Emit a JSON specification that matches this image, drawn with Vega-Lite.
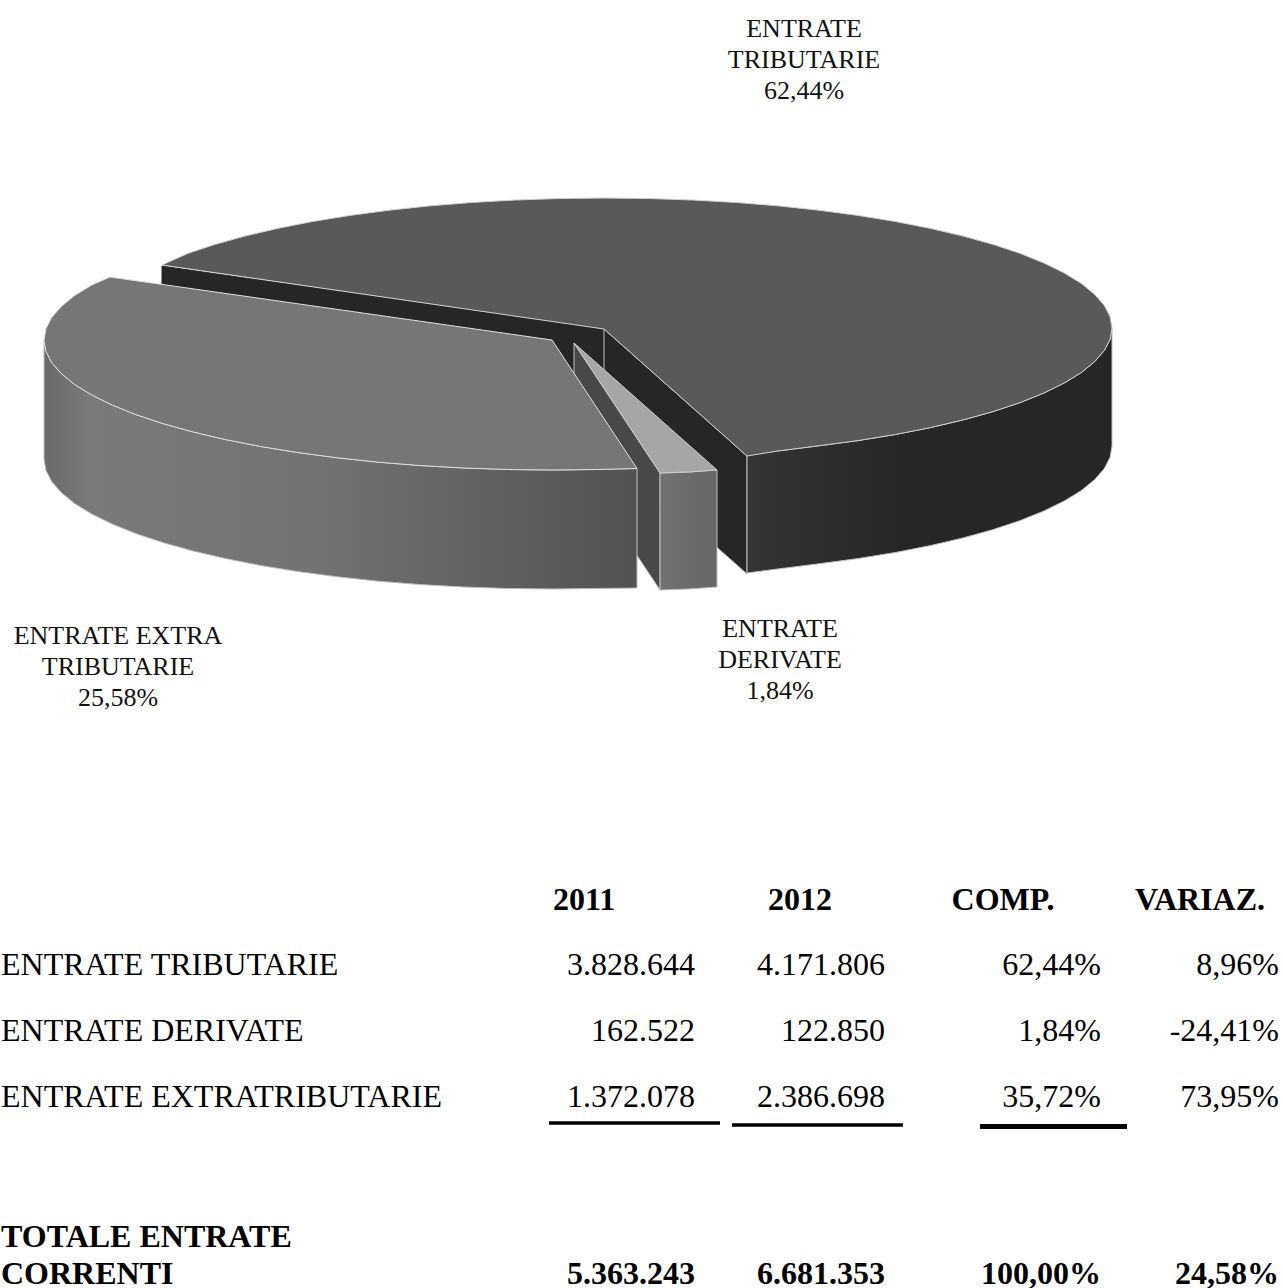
{
"$schema":"https://vega.github.io/schema/vega-lite/v6.json",
"width":1283,"height":1288,"padding":0,"autosize":{"type":"none"},
"background":"white","config":{"view":{"stroke":null}},
"datasets":{
"pie":[
{"part":"tribInnerLeft","x":162,"y":266},{"part":"tribInnerLeft","x":604,"y":329},{"part":"tribInnerLeft","x":604,"y":447},{"part":"tribInnerLeft","x":162,"y":384},{"part":"tribInnerLeft","x":162,"y":266},
{"part":"tribInnerRight","x":604,"y":329},{"part":"tribInnerRight","x":747,"y":456},{"part":"tribInnerRight","x":747,"y":574},{"part":"tribInnerRight","x":604,"y":447},{"part":"tribInnerRight","x":604,"y":329},
{"part":"tribWall","x":1112,"y":328},{"part":"tribWall","x":1110.1,"y":339.3},{"part":"tribWall","x":1104.3,"y":350.6},{"part":"tribWall","x":1094.7,"y":361.6},{"part":"tribWall","x":1081.4,"y":372.5},{"part":"tribWall","x":1064.4,"y":382.9},{"part":"tribWall","x":1043.9,"y":393},{"part":"tribWall","x":1020.2,"y":402.6},{"part":"tribWall","x":993.1,"y":411.6},{"part":"tribWall","x":963.2,"y":419.9},{"part":"tribWall","x":930.5,"y":427.6},{"part":"tribWall","x":895.4,"y":434.5},{"part":"tribWall","x":858,"y":440.6},{"part":"tribWall","x":818.7,"y":445.8},{"part":"tribWall","x":777.7,"y":451},{"part":"tribWall","x":747,"y":455},
{"part":"tribWall","x":747,"y":573},{"part":"tribWall","x":777.7,"y":569},{"part":"tribWall","x":818.7,"y":563.8},{"part":"tribWall","x":858,"y":558.6},{"part":"tribWall","x":895.4,"y":552.5},{"part":"tribWall","x":930.5,"y":545.6},{"part":"tribWall","x":963.2,"y":537.9},{"part":"tribWall","x":993.1,"y":529.6},{"part":"tribWall","x":1020.2,"y":520.6},{"part":"tribWall","x":1043.9,"y":511},{"part":"tribWall","x":1064.4,"y":500.9},{"part":"tribWall","x":1081.4,"y":490.5},{"part":"tribWall","x":1094.7,"y":479.6},{"part":"tribWall","x":1104.3,"y":468.6},{"part":"tribWall","x":1110.1,"y":457.3},{"part":"tribWall","x":1112,"y":446},{"part":"tribWall","x":1112,"y":328},
{"part":"tribTop","x":604,"y":329},{"part":"tribTop","x":162,"y":265},{"part":"tribTop","x":187.8,"y":253.4},{"part":"tribTop","x":214.9,"y":244.4},{"part":"tribTop","x":244.8,"y":236.1},{"part":"tribTop","x":277.5,"y":228.4},{"part":"tribTop","x":312.6,"y":221.5},{"part":"tribTop","x":350,"y":215.4},{"part":"tribTop","x":389.3,"y":210.2},{"part":"tribTop","x":430.3,"y":205.8},{"part":"tribTop","x":472.5,"y":202.4},{"part":"tribTop","x":515.8,"y":200},{"part":"tribTop","x":559.7,"y":198.5},{"part":"tribTop","x":604,"y":198},{"part":"tribTop","x":648.3,"y":198.5},{"part":"tribTop","x":692.2,"y":200},{"part":"tribTop","x":735.5,"y":202.4},{"part":"tribTop","x":777.7,"y":205.8},{"part":"tribTop","x":818.7,"y":210.2},{"part":"tribTop","x":858,"y":215.4},{"part":"tribTop","x":895.4,"y":221.5},{"part":"tribTop","x":930.5,"y":228.4},{"part":"tribTop","x":963.2,"y":236.1},{"part":"tribTop","x":993.1,"y":244.4},{"part":"tribTop","x":1020.2,"y":253.4},{"part":"tribTop","x":1043.9,"y":263},{"part":"tribTop","x":1064.4,"y":273.1},{"part":"tribTop","x":1081.4,"y":283.5},{"part":"tribTop","x":1094.7,"y":294.4},{"part":"tribTop","x":1104.3,"y":305.4},{"part":"tribTop","x":1110.1,"y":316.7},{"part":"tribTop","x":1112,"y":328},{"part":"tribTop","x":1110.1,"y":339.3},{"part":"tribTop","x":1104.3,"y":350.6},{"part":"tribTop","x":1094.7,"y":361.6},{"part":"tribTop","x":1081.4,"y":372.5},{"part":"tribTop","x":1064.4,"y":382.9},{"part":"tribTop","x":1043.9,"y":393},{"part":"tribTop","x":1020.2,"y":402.6},{"part":"tribTop","x":993.1,"y":411.6},{"part":"tribTop","x":963.2,"y":419.9},{"part":"tribTop","x":930.5,"y":427.6},{"part":"tribTop","x":895.4,"y":434.5},{"part":"tribTop","x":858,"y":440.6},{"part":"tribTop","x":818.7,"y":445.8},{"part":"tribTop","x":777.7,"y":451},{"part":"tribTop","x":747,"y":456},{"part":"tribTop","x":604,"y":329},
{"part":"derInner","x":574,"y":343},{"part":"derInner","x":660,"y":473},{"part":"derInner","x":660,"y":590},{"part":"derInner","x":574,"y":461},{"part":"derInner","x":574,"y":343},
{"part":"derWall","x":660,"y":473},{"part":"derWall","x":689,"y":472},{"part":"derWall","x":717,"y":470},{"part":"derWall","x":717,"y":587},{"part":"derWall","x":689,"y":589},{"part":"derWall","x":660,"y":590},{"part":"derWall","x":660,"y":473},
{"part":"derTop","x":574,"y":343},{"part":"derTop","x":660,"y":473},{"part":"derTop","x":689,"y":472},{"part":"derTop","x":717,"y":470},{"part":"derTop","x":574,"y":343},
{"part":"extraWall","x":44,"y":340},{"part":"extraWall","x":45.9,"y":351.3},{"part":"extraWall","x":51.7,"y":362.6},{"part":"extraWall","x":61.3,"y":373.6},{"part":"extraWall","x":74.6,"y":384.5},{"part":"extraWall","x":91.6,"y":394.9},{"part":"extraWall","x":112.1,"y":405},{"part":"extraWall","x":135.8,"y":414.6},{"part":"extraWall","x":162.9,"y":423.6},{"part":"extraWall","x":192.8,"y":431.9},{"part":"extraWall","x":225.5,"y":439.6},{"part":"extraWall","x":260.6,"y":446.5},{"part":"extraWall","x":298,"y":452.6},{"part":"extraWall","x":337.3,"y":457.8},{"part":"extraWall","x":378.3,"y":462.2},{"part":"extraWall","x":420.5,"y":465.6},{"part":"extraWall","x":463.8,"y":468},{"part":"extraWall","x":507.7,"y":469.5},{"part":"extraWall","x":552,"y":470},{"part":"extraWall","x":596.3,"y":469.5},{"part":"extraWall","x":637,"y":468.5},
{"part":"extraWall","x":637,"y":588},{"part":"extraWall","x":596.3,"y":588.5},{"part":"extraWall","x":552,"y":589},{"part":"extraWall","x":507.7,"y":588.5},{"part":"extraWall","x":463.8,"y":587},{"part":"extraWall","x":420.5,"y":584.6},{"part":"extraWall","x":378.3,"y":581.2},{"part":"extraWall","x":337.3,"y":576.8},{"part":"extraWall","x":298,"y":571.6},{"part":"extraWall","x":260.6,"y":565.5},{"part":"extraWall","x":225.5,"y":558.6},{"part":"extraWall","x":192.8,"y":550.9},{"part":"extraWall","x":162.9,"y":542.6},{"part":"extraWall","x":135.8,"y":533.6},{"part":"extraWall","x":112.1,"y":524},{"part":"extraWall","x":91.6,"y":513.9},{"part":"extraWall","x":74.6,"y":503.5},{"part":"extraWall","x":61.3,"y":492.6},{"part":"extraWall","x":51.7,"y":481.6},{"part":"extraWall","x":45.9,"y":470.3},{"part":"extraWall","x":44,"y":459},{"part":"extraWall","x":44,"y":340},
{"part":"extraTop","x":552,"y":340},{"part":"extraTop","x":110,"y":277},{"part":"extraTop","x":91.6,"y":285.1},{"part":"extraTop","x":74.6,"y":295.5},{"part":"extraTop","x":61.3,"y":306.4},{"part":"extraTop","x":51.7,"y":317.4},{"part":"extraTop","x":45.9,"y":328.7},{"part":"extraTop","x":44,"y":340},{"part":"extraTop","x":45.9,"y":351.3},{"part":"extraTop","x":51.7,"y":362.6},{"part":"extraTop","x":61.3,"y":373.6},{"part":"extraTop","x":74.6,"y":384.5},{"part":"extraTop","x":91.6,"y":394.9},{"part":"extraTop","x":112.1,"y":405},{"part":"extraTop","x":135.8,"y":414.6},{"part":"extraTop","x":162.9,"y":423.6},{"part":"extraTop","x":192.8,"y":431.9},{"part":"extraTop","x":225.5,"y":439.6},{"part":"extraTop","x":260.6,"y":446.5},{"part":"extraTop","x":298,"y":452.6},{"part":"extraTop","x":337.3,"y":457.8},{"part":"extraTop","x":378.3,"y":462.2},{"part":"extraTop","x":420.5,"y":465.6},{"part":"extraTop","x":463.8,"y":468},{"part":"extraTop","x":507.7,"y":469.5},{"part":"extraTop","x":552,"y":470},{"part":"extraTop","x":596.3,"y":469.5},{"part":"extraTop","x":637,"y":468.5},{"part":"extraTop","x":552,"y":340}
],
"table":[
{"row":1,"col":0,"text":"ENTRATE TRIBUTARIE"},{"row":1,"col":1,"text":"3.828.644"},{"row":1,"col":2,"text":"4.171.806"},{"row":1,"col":3,"text":"62,44%"},{"row":1,"col":4,"text":"8,96%"},
{"row":2,"col":0,"text":"ENTRATE DERIVATE"},{"row":2,"col":1,"text":"162.522"},{"row":2,"col":2,"text":"122.850"},{"row":2,"col":3,"text":"1,84%"},{"row":2,"col":4,"text":"-24,41%"},
{"row":3,"col":0,"text":"ENTRATE EXTRATRIBUTARIE"},{"row":3,"col":1,"text":"1.372.078"},{"row":3,"col":2,"text":"2.386.698"},{"row":3,"col":3,"text":"35,72%"},{"row":3,"col":4,"text":"73,95%"},
{"row":4,"col":0,"text":"TOTALE ENTRATE"},
{"row":5,"col":0,"text":"CORRENTI"},{"row":5,"col":1,"text":"5.363.243"},{"row":5,"col":2,"text":"6.681.353"},{"row":5,"col":3,"text":"100,00%"},{"row":5,"col":4,"text":"24,58%"}
]
},
"layer":[
{"data":{"name":"pie"},
 "transform":[{"window":[{"op":"row_number","as":"i"}]}],
 "encoding":{
  "x":{"field":"x","type":"quantitative","axis":null,"scale":{"domain":[0,1283],"range":[0,1283],"nice":false,"zero":false}},
  "y":{"field":"y","type":"quantitative","axis":null,"scale":{"domain":[0,1288],"range":[0,1288],"nice":false,"zero":false}},
  "order":{"field":"i","type":"quantitative"}},
 "layer":[
  {"transform":[{"filter":"datum.part==='tribInnerLeft'"}],"mark":{"type":"line","fill":"#262626","stroke":"#262626","strokeWidth":1}},
  {"transform":[{"filter":"datum.part==='tribInnerRight'"}],"mark":{"type":"line","fill":"#262626","stroke":"#bdbdbd","strokeWidth":1}},
  {"transform":[{"filter":"datum.part==='tribWall'"}],"mark":{"type":"line","strokeWidth":1,"stroke":"#bdbdbd","fill":{"x1":0,"y1":0,"x2":1,"y2":0,"gradient":"linear","stops":[{"offset":0,"color":"#343434"},{"offset":0.45,"color":"#262626"},{"offset":1,"color":"#262626"}]}}},
  {"transform":[{"filter":"datum.part==='tribTop'"}],"mark":{"type":"line","fill":"#595959","stroke":"#d0d0d0","strokeWidth":1}},
  {"transform":[{"filter":"datum.part==='derInner'"}],"mark":{"type":"line","fill":"#484848","stroke":"#bdbdbd","strokeWidth":1}},
  {"transform":[{"filter":"datum.part==='derWall'"}],"mark":{"type":"line","strokeWidth":1,"stroke":"#bdbdbd","fill":{"x1":0,"y1":0,"x2":1,"y2":0,"gradient":"linear","stops":[{"offset":0,"color":"#727272"},{"offset":1,"color":"#666666"}]}}},
  {"transform":[{"filter":"datum.part==='derTop'"}],"mark":{"type":"line","fill":"#a6a6a6","stroke":"#d0d0d0","strokeWidth":1}},
  {"transform":[{"filter":"datum.part==='extraWall'"}],"mark":{"type":"line","strokeWidth":1,"stroke":"#bdbdbd","fill":{"x1":0,"y1":0,"x2":1,"y2":0,"gradient":"linear","stops":[{"offset":0,"color":"#6a6a6a"},{"offset":0.08,"color":"#7a7a7a"},{"offset":0.45,"color":"#737373"},{"offset":1,"color":"#525252"}]}}},
  {"transform":[{"filter":"datum.part==='extraTop'"}],"mark":{"type":"line","fill":"#767676","stroke":"#e0e0e0","strokeWidth":1}}
 ]},
{"data":{"values":[
  {"slice":1,"label":"ENTRATE\nTRIBUTARIE\n62,44%"},
  {"slice":2,"label":"ENTRATE\nDERIVATE\n1,84%"},
  {"slice":3,"label":"ENTRATE EXTRA\nTRIBUTARIE\n25,58%"}]},
 "mark":{"type":"text","font":"Liberation Serif","fontSize":26,"lineBreak":"\n","lineHeight":31,"align":"center","baseline":"middle","color":"#111111"},
 "encoding":{
  "x":{"field":"slice","type":"quantitative","axis":null,"scale":{"domain":[1,2,3],"range":[804,780,118],"nice":false,"zero":false}},
  "y":{"field":"slice","type":"quantitative","axis":null,"scale":{"domain":[1,2,3],"range":[29,629,636],"nice":false,"zero":false}},
  "text":{"field":"label"}}},
{"data":{"values":[{"col":1,"text":"2011"},{"col":2,"text":"2012"},{"col":3,"text":"COMP."},{"col":4,"text":"VARIAZ."}]},
 "mark":{"type":"text","font":"Liberation Serif","fontSize":32,"fontWeight":"bold","align":"center","baseline":"middle","color":"#000000"},
 "encoding":{
  "x":{"field":"col","type":"quantitative","axis":null,"scale":{"domain":[1,2,3,4],"range":[584,800,1003,1200],"nice":false,"zero":false}},
  "y":{"datum":0,"axis":null,"scale":{"domain":[0,1],"range":[900,901]}},
  "text":{"field":"text"}}},
{"data":{"name":"table"},
 "encoding":{
  "x":{"field":"col","type":"quantitative","axis":null,"scale":{"domain":[0,1,2,3,4],"range":[1,695,885,1101,1279],"nice":false,"zero":false}},
  "y":{"field":"row","type":"quantitative","axis":null,"scale":{"domain":[1,2,3,4,5],"range":[965,1031,1097,1237,1274],"nice":false,"zero":false}},
  "text":{"field":"text"}},
 "layer":[
  {"transform":[{"filter":"datum.col===0 && datum.row<4"}],"mark":{"type":"text","font":"Liberation Serif","fontSize":32,"align":"left","baseline":"middle","color":"#000000"}},
  {"transform":[{"filter":"datum.col>0 && datum.row<4"}],"mark":{"type":"text","font":"Liberation Serif","fontSize":32,"align":"right","baseline":"middle","color":"#000000"}},
  {"transform":[{"filter":"datum.col===0 && datum.row>=4"}],"mark":{"type":"text","font":"Liberation Serif","fontSize":32,"fontWeight":"bold","align":"left","baseline":"middle","color":"#000000"}},
  {"transform":[{"filter":"datum.col>0 && datum.row>=4"}],"mark":{"type":"text","font":"Liberation Serif","fontSize":32,"fontWeight":"bold","align":"right","baseline":"middle","color":"#000000"}}
 ]},
{"data":{"values":[{"col":1,"end":1.5},{"col":2,"end":2.5},{"col":3,"end":3.5}]},
 "mark":{"type":"rule","color":"#000000"},
 "encoding":{
  "x":{"field":"col","type":"quantitative","axis":null,"scale":{"domain":[1,1.5,2,2.5,3,3.5],"range":[549,720,732,903,980,1127],"nice":false,"zero":false}},
  "x2":{"field":"end"},
  "y":{"field":"col","type":"quantitative","axis":null,"scale":{"domain":[1,2,3],"range":[1123,1125,1126.5],"nice":false,"zero":false}},
  "strokeWidth":{"field":"col","type":"quantitative","legend":null,"scale":{"domain":[1,2,3],"range":[3.5,3.5,5]}}}}
],
"resolve":{"scale":{"x":"independent","y":"independent","strokeWidth":"independent"}}
}
